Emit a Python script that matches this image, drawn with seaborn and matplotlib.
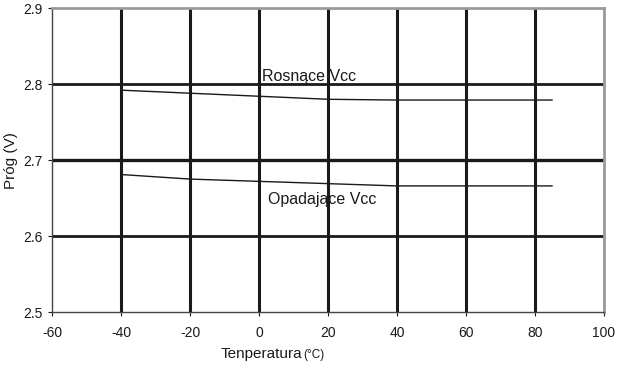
import matplotlib
matplotlib.use("Agg")
import matplotlib.pyplot as plt
import pandas as pd
import seaborn as sns

# ── dane ──
temperatura = [-40, -20, 0, 20, 40, 60, 85]
rosnace_vcc = [2.792, 2.788, 2.784, 2.780, 2.779, 2.779, 2.779]
opadajace_vcc = [2.681, 2.675, 2.672, 2.669, 2.666, 2.666, 2.666]
x_ticks = [-60, -40, -20, 0, 20, 40, 60, 80, 100]
y_ticks = [2.5, 2.6, 2.7, 2.8, 2.9]

df = pd.DataFrame({
    "T": temperatura * 2,
    "V": rosnace_vcc + opadajace_vcc,
    "seria": ["Rosnące Vcc"] * len(temperatura) + ["Opadające Vcc"] * len(temperatura),
})

sns.set_theme(style="white")
plt.rcParams["font.family"] = ["Liberation Sans", "DejaVu Sans"]

fig = plt.figure(figsize=(6.17, 3.68), dpi=100)
ax = fig.add_axes([0.0843, 0.152, 0.8947, 0.826])

sns.lineplot(data=df, x="T", y="V", units="seria", estimator=None,
             color="#1a1a1a", linewidth=1.0, legend=False, ax=ax)

# siatka: grube czarne linie
for x in x_ticks[1:-1]:
    ax.axvline(x, color="#1a1a1a", linewidth=2.2, zorder=1)
for y in y_ticks[1:-1]:
    ax.axhline(y, color="#1a1a1a", linewidth=2.4 if y == 2.7 else 2.0, zorder=1)

ax.set_xlim(-60, 100)
ax.set_ylim(2.5, 2.9)
ax.set_xticks(x_ticks)
ax.set_yticks(y_ticks)
ax.set_xticklabels([str(v) for v in x_ticks])
ax.set_yticklabels([f"{v:.1f}" for v in y_ticks])
ax.tick_params(axis="both", labelsize=10, colors="#1a1a1a", direction="out",
               length=3, width=0.8, bottom=True, left=True)
ax.tick_params(axis="x", pad=7)

for side in ["left", "bottom"]:
    ax.spines[side].set_color("#444444")
    ax.spines[side].set_linewidth(1.0)
for side in ["top", "right"]:
    ax.spines[side].set_color("#999999")
    ax.spines[side].set_linewidth(2.0)

ax.set_xlabel("")
ax.set_ylabel("Próg (V)", fontsize=11, color="#1a1a1a", labelpad=4)

ax.text(1.0, 2.81, "Rosnące Vcc", fontsize=11.5, color="#1a1a1a", va="center", ha="left")
ax.text(2.5, 2.648, "Opadające Vcc", fontsize=11.5, color="#1a1a1a", va="center", ha="left")

fig.text(0.490, 0.028, "Tenperatura", fontsize=11, color="#1a1a1a", ha="right", va="baseline")
fig.text(0.492, 0.028, "(°C)", fontsize=8.5, color="#1a1a1a", ha="left", va="baseline")

fig.savefig("out.png", dpi=100, facecolor="white")
